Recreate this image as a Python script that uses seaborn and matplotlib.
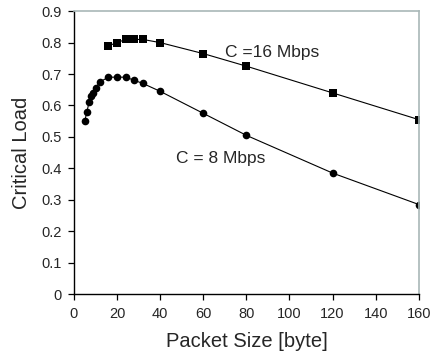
import matplotlib
matplotlib.use("Agg")
import matplotlib.pyplot as plt
import seaborn as sns
import pandas as pd

# Packet sizes (bytes) and critical load for each link capacity
size_8 = [5, 6, 7, 8, 9, 10, 12, 16, 20, 24, 28, 32, 40, 60, 80, 120, 160]
load_8 = [0.55, 0.58, 0.61, 0.63, 0.64, 0.655, 0.675, 0.69, 0.69, 0.69,
          0.68, 0.67, 0.645, 0.575, 0.505, 0.385, 0.285]

size_16 = [16, 20, 24, 28, 32, 40, 60, 80, 120, 160]
load_16 = [0.79, 0.80, 0.81, 0.81, 0.81, 0.80, 0.765, 0.725, 0.64, 0.555]

x_ticks = [0, 20, 40, 60, 80, 100, 120, 140, 160]
y_ticks = [0, 0.1, 0.2, 0.3, 0.4, 0.5, 0.6, 0.7, 0.8, 0.9]
y_tick_labels = ["0", "0.1", "0.2", "0.3", "0.4", "0.5", "0.6", "0.7", "0.8", "0.9"]

df8 = pd.DataFrame({"size": size_8, "load": load_8})
df16 = pd.DataFrame({"size": size_16, "load": load_16})

sns.set_theme(style="ticks")
plt.rcParams["font.family"] = ["Liberation Sans", "DejaVu Sans"]

fig = plt.figure(figsize=(4.3, 3.6), dpi=100)
ax = fig.add_axes([0.172, 0.183, 0.802, 0.786])

sns.lineplot(data=df16, x="size", y="load", ax=ax, color="black",
             marker="s", markersize=5.3, markeredgewidth=0, linewidth=0.8)
sns.lineplot(data=df8, x="size", y="load", ax=ax, color="black",
             marker="o", markersize=5.5, markeredgewidth=0, linewidth=0.8)

ax.set_xlim(0, 160)
ax.set_ylim(0, 0.9)
ax.set_xticks(x_ticks)
ax.set_yticks(y_ticks)
ax.set_yticklabels(y_tick_labels)
ax.tick_params(axis="both", direction="out", length=4, width=0.9,
               color="black", labelsize=10.5, pad=5)

for side in ("left", "bottom"):
    ax.spines[side].set_color("black")
    ax.spines[side].set_linewidth(1.0)
for side in ("top", "right"):
    ax.spines[side].set_visible(True)
    ax.spines[side].set_color("#a9b8b8")
    ax.spines[side].set_linewidth(1.2)

ax.set_xlabel("Packet Size [byte]", fontsize=14.5, labelpad=8)
ax.set_ylabel("Critical Load", fontsize=14.5, labelpad=7)

ax.text(70, 0.77, "C =16 Mbps", fontsize=12.5, va="center", ha="left")
ax.text(47.5, 0.432, "C = 8 Mbps", fontsize=12.5, va="center", ha="left")

fig.savefig("out.png", dpi=100)
